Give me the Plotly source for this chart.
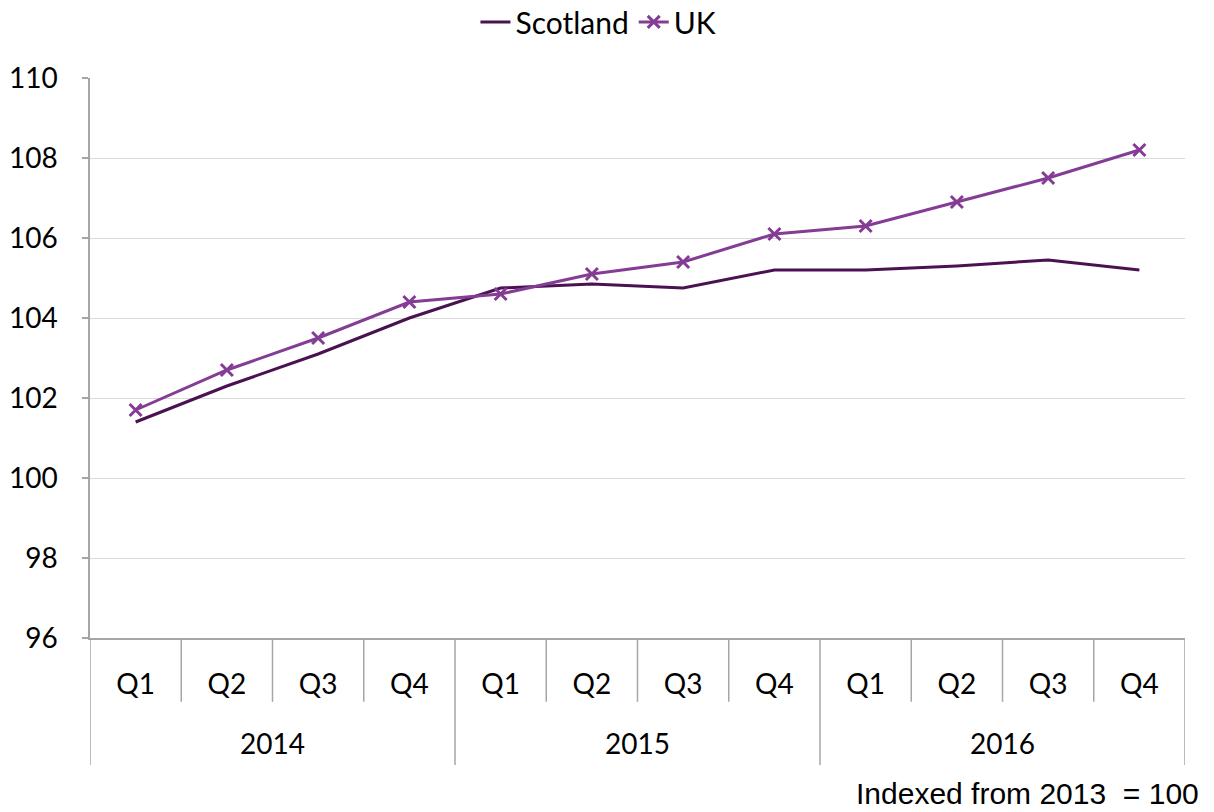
import plotly.graph_objects as go

years = ["2014", "2015", "2016"]
quarters = ["Q1", "Q2", "Q3", "Q4"]
scotland = [101.4, 102.3, 103.1, 104.0, 104.75, 104.85, 104.75, 105.2, 105.2, 105.3, 105.45, 105.2]
uk = [101.7, 102.7, 103.5, 104.4, 104.6, 105.1, 105.4, 106.1, 106.3, 106.9, 107.5, 108.2]

SCOT_C = "#4a1250"
UK_C = "#843c95"
AX_C = "#a6a6a6"
FONT = "Lato"
FS = 28

n = len(scotland)
xs = list(range(n))
qlabels = [quarters[i % len(quarters)] for i in xs]

fig = go.Figure()
fig.add_trace(go.Scatter(
    x=xs, y=scotland, name="Scotland", mode="lines",
    line=dict(color=SCOT_C, width=3),
))
fig.add_trace(go.Scatter(
    x=xs, y=uk, name="UK", mode="lines+markers",
    line=dict(color=UK_C, width=3),
    marker=dict(symbol="x-thin", size=12, color=UK_C, line=dict(color=UK_C, width=3)),
))

shapes = []
annotations = []
nq = len(quarters)
for b in range(n + 1):
    xb = b - 0.5
    is_year = (b % nq == 0)
    shapes.append(dict(type="line", xref="x", yref="paper", x0=xb, x1=xb,
                       y0=0, y1=(-0.227 if is_year else -0.114),
                       line=dict(color=AX_C, width=1.5)))
for i, yr in enumerate(years):
    annotations.append(dict(text=yr, xref="x", yref="paper", x=i * nq + (nq - 1) / 2,
                            y=-0.188, yanchor="middle", showarrow=False,
                            font=dict(family=FONT, size=FS, color="black")))
annotations.append(dict(
    text="Indexed from 2013  = 100", xref="paper", yref="paper",
    x=1, xanchor="right", xshift=16, y=-0.278, yanchor="middle",
    showarrow=False, font=dict(family="Liberation Sans", size=30, color="black"),
))

fig.update_layout(
    width=1214, height=812,
    margin=dict(l=90, r=29, t=78, b=174, autoexpand=False),
    paper_bgcolor="white", plot_bgcolor="white",
    font=dict(family=FONT, size=FS, color="black"),
    showlegend=True,
    legend=dict(orientation="h", x=0.352, xanchor="left", y=0.973, yanchor="middle",
                yref="container", font=dict(size=30, family=FONT), tracegroupgap=0),
    xaxis=dict(
        range=[-0.5, n - 0.5], automargin=False,
        tickvals=xs, ticktext=qlabels,
        showline=True, linecolor=AX_C, linewidth=1.5,
        showgrid=False, zeroline=False,
        ticks="", ticklabelstandoff=21,
        tickfont=dict(size=FS, family=FONT),
    ),
    yaxis=dict(
        range=[96, 110], dtick=2, tick0=96, automargin=False,
        showgrid=True, gridcolor="#d9d9d9", gridwidth=1.2,
        showline=True, linecolor=AX_C, linewidth=1.5,
        ticks="outside", ticklen=6, tickcolor=AX_C, tickwidth=1.5,
        ticklabelstandoff=19,
        tickfont=dict(size=FS, family=FONT),
        zeroline=False,
    ),
    shapes=shapes,
    annotations=annotations,
)

fig.write_html("out.html")
